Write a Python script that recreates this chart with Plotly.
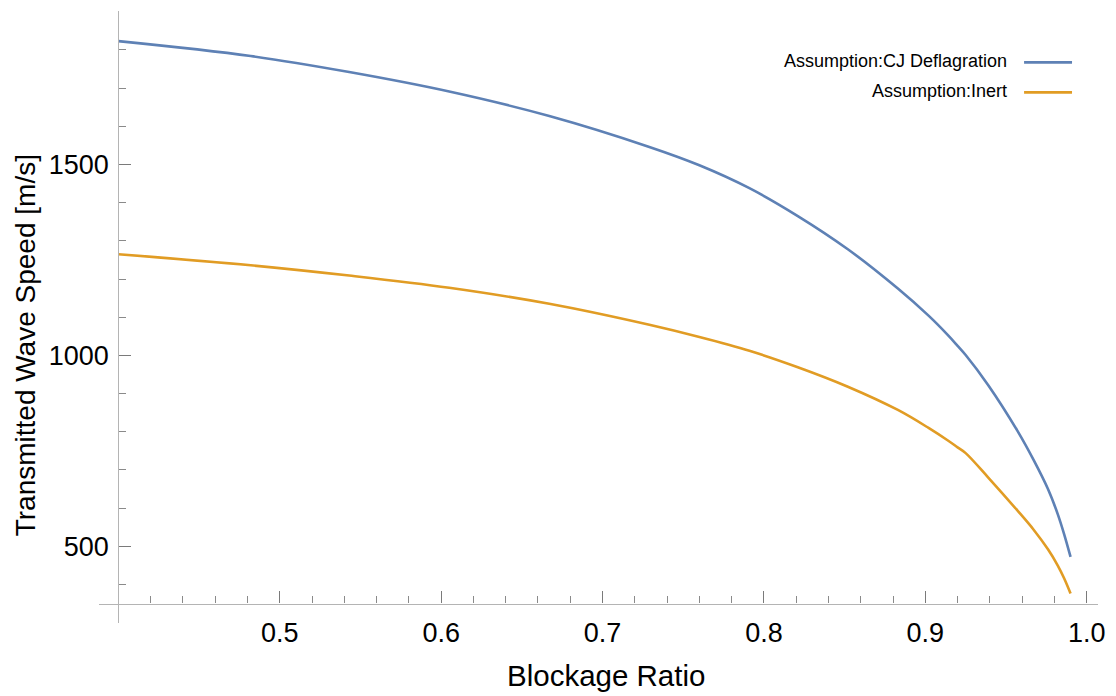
import plotly.graph_objects as go

# Blockage ratio samples and transmitted wave speed [m/s] for both assumptions
blockage_ratio = [0.400, 0.482, 0.543, 0.605, 0.667, 0.729, 0.760, 0.791, 0.821, 0.852,
                  0.883, 0.902, 0.914, 0.920, 0.925, 0.939, 0.957, 0.967, 0.976, 0.982,
                  0.986, 0.990]
speed_cj_deflagration = [1823, 1784, 1742, 1691, 1627, 1546, 1498, 1438, 1365, 1278,
                         1175, 1104, 1053, 1025, 1001, 922, 803, 727, 650, 585,
                         532, 472]
speed_inert = [1265, 1236, 1209, 1177, 1135, 1080, 1048, 1012, 969, 918,
               857, 810, 777, 759, 744, 680, 594, 544, 492, 450,
               416, 376]

series_names = ["Assumption:CJ Deflagration", "Assumption:Inert"]
series_colors = ["#5E81B5", "#E19C24"]

x_major = [0.5, 0.6, 0.7, 0.8, 0.9, 1.0]
x_major_text = ["0.5", "0.6", "0.7", "0.8", "0.9", "1.0"]
x_minor = [round(0.40 + 0.02 * i, 2) for i in range(1, 30) if (i % 5) != 0]
y_major = [500, 1000, 1500]
y_minor = [v for v in range(300, 2000, 100) if v not in y_major]

X_RANGE = [0.388, 1.007]
Y_RANGE = [299, 1902]
X_CROSS = 0.4     # where the vertical axis sits
Y_CROSS = 350     # where the horizontal axis sits

FONT = "Liberation Sans, Arial, sans-serif"

fig = go.Figure()
for name, ys, col in zip(series_names, [speed_cj_deflagration, speed_inert], series_colors):
    fig.add_trace(go.Scatter(
        x=blockage_ratio, y=ys, mode="lines", name=name,
        line=dict(color=col, width=2.6, shape="spline", smoothing=1.0),
        showlegend=False,
    ))

axis_common = dict(
    showgrid=False, zeroline=False, showline=True,
    linecolor="#b4b4b4", linewidth=1.2,
    ticks="inside", tickcolor="#7a7a7a", tickwidth=1.2, ticklen=12,
    tickfont=dict(family=FONT, size=27, color="#000000"),
)

fig.update_layout(
    width=1116, height=696,
    margin=dict(l=99, r=16, t=11, b=73),
    paper_bgcolor="white", plot_bgcolor="white",
    xaxis=dict(
        range=X_RANGE, anchor="free",
        position=(Y_CROSS - Y_RANGE[0]) / (Y_RANGE[1] - Y_RANGE[0]),
        tickmode="array", tickvals=x_major, ticktext=x_major_text,
        minor=dict(tickmode="array", tickvals=x_minor, ticks="inside",
                   ticklen=7, tickcolor="#8a8a8a", tickwidth=1.1),
        ticklabelstandoff=5,
        **axis_common,
    ),
    yaxis=dict(
        range=Y_RANGE, anchor="free",
        position=(X_CROSS - X_RANGE[0]) / (X_RANGE[1] - X_RANGE[0]),
        tickmode="array", tickvals=y_major, ticktext=[str(v) for v in y_major],
        minor=dict(tickmode="array", tickvals=y_minor, ticks="inside",
                   ticklen=7, tickcolor="#8a8a8a", tickwidth=1.1),
        ticklabelstandoff=4,
        **axis_common,
    ),
)

# axis titles
fig.add_annotation(text="Blockage Ratio", xref="paper", yref="paper",
                   x=0.5075, y=-0.0866, xanchor="center", yanchor="middle",
                   showarrow=False, font=dict(family=FONT, size=29.5, color="#000000"))
fig.add_annotation(text="Transmitted Wave Speed [m/s]", xref="paper", yref="paper",
                   x=-0.0739, y=0.454, xanchor="center", yanchor="middle", textangle=-90,
                   showarrow=False, font=dict(family=FONT, size=28, color="#000000"))

# legend: label on the left, line swatch on the right
legend_rows_y = [0.918, 0.869]
for name, col, ly in zip(series_names, series_colors, legend_rows_y):
    fig.add_annotation(text=name, xref="paper", yref="paper", x=0.911, y=ly,
                       xanchor="right", yanchor="middle", showarrow=False,
                       font=dict(family=FONT, size=18, color="#000000"))
    fig.add_shape(type="line", xref="paper", yref="paper",
                  x0=0.926, x1=0.974, y0=ly - 0.002, y1=ly - 0.002,
                  line=dict(color=col, width=2.6))

fig.write_html("out.html")
